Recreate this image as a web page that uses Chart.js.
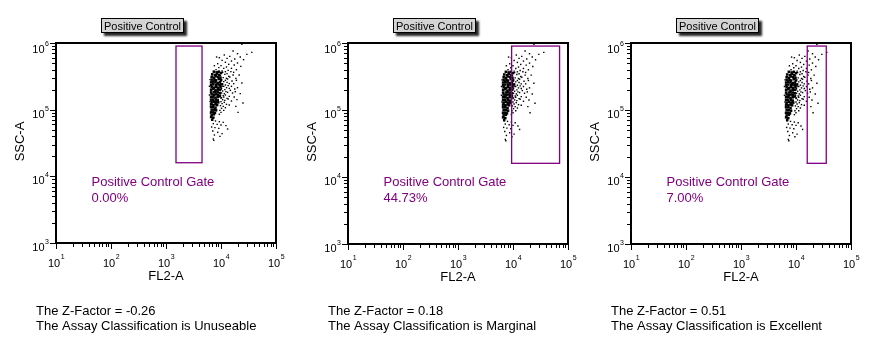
<!DOCTYPE html>
<html>
<head>
<meta charset="utf-8">
<script src="https://cdn.jsdelivr.net/npm/chart.js@4.4.1/dist/chart.umd.min.js"></script>
<style>
  html, body { margin: 0; padding: 0; background: #fff; }
  #wrap { position: relative; width: 884px; height: 340px; overflow: hidden; }
  canvas { position: absolute; top: 0; }
</style>
</head>
<body>
<div id="wrap"></div>
<script>
// --- values ---
const panelTitles = ['Positive Control', 'Positive Control', 'Positive Control'];
const gateName = 'Positive Control Gate';
const gatePercents = ['0.00%', '44.73%', '7.00%'];
const zFactors = ['-0.26', '0.18', '0.51'];
const classifications = ['Unuseable', 'Marginal', 'Excellent'];
const xTitle = 'FL2-A';
const yTitle = 'SSC-A';

// gate limits (FL2 per panel, SSC shared)
const gateFL2 = [[1520, 4520], [9440, 70300], [16000, 35500]];
const gateSSC = [16000, 900000];

// decade tick exponents
const xTickExps = [1, 2, 3, 4, 5];
const yTickExps = [3, 4, 5, 6];

// events as [log10 FL2, log10 SSC]; the same sample is shown in all three plots
// dense centre of the population
const coreEvents = [
  [3.87,5.57],[3.92,5.56],[3.96,5.57],[4.00,5.55],
  [3.84,5.53],[3.89,5.52],[3.93,5.54],[3.97,5.52],
  [3.83,5.49],[3.87,5.48],[3.91,5.50],[3.95,5.49],[3.99,5.48],
  [3.83,5.45],[3.88,5.45],[3.91,5.44],[3.96,5.46],[4.00,5.44],
  [3.82,5.41],[3.86,5.42],[3.90,5.41],[3.94,5.40],[3.98,5.41],
  [3.82,5.37],[3.86,5.38],[3.91,5.37],[3.94,5.38],[3.98,5.37],[4.02,5.38],
  [3.83,5.34],[3.87,5.33],[3.91,5.34],[3.95,5.33],[3.99,5.34],
  [3.82,5.30],[3.86,5.31],[3.90,5.29],[3.94,5.30],[3.98,5.30],
  [3.82,5.26],[3.87,5.26],[3.90,5.27],[3.94,5.26],[3.98,5.25],
  [3.83,5.23],[3.87,5.22],[3.91,5.23],[3.95,5.22],
  [3.82,5.19],[3.86,5.19],[3.90,5.18],[3.94,5.19],[3.98,5.20],
  [3.82,5.15],[3.86,5.15],[3.91,5.15],[3.94,5.14],
  [3.83,5.11],[3.87,5.12],[3.91,5.11],[3.95,5.11],
  [3.82,5.08],[3.86,5.07],[3.90,5.08],[3.93,5.07],
  [3.82,5.04],[3.86,5.04],[3.90,5.03],
  [3.83,5.00],[3.87,5.00],[3.91,4.99],
  [3.82,4.96],[3.86,4.96],[3.89,4.95],
  [3.83,4.92],[3.87,4.93],
  [3.82,4.89],[3.86,4.88],
  [3.84,4.85]
];
// scattered events around it
const sparseEvents = [
  // upper tail
  [4.38,5.98],[4.56,5.86],[4.22,5.88],[4.30,5.84],[4.47,5.83],[4.06,5.82],[4.16,5.80],
  [4.35,5.79],[3.92,5.79],[3.97,5.78],[4.11,5.77],[4.25,5.76],[4.41,5.75],[4.02,5.74],
  [4.19,5.73],[4.08,5.71],[4.30,5.70],[3.94,5.69],[4.14,5.68],[4.24,5.67],[3.88,5.66],
  [4.00,5.66],[4.36,5.65],[4.10,5.64],[3.96,5.63],[4.05,5.62],[4.19,5.62],[4.28,5.60],
  [3.91,5.60],[4.13,5.59],[4.02,5.58],[4.08,5.57],[4.23,5.56],[3.93,5.55],
  // right shoulder
  [4.03,5.56],[4.11,5.54],[4.18,5.57],
  [3.99,5.51],[4.07,5.53],[4.14,5.50],[4.22,5.52],
  [4.04,5.48],[4.10,5.47],[4.16,5.49],
  [4.01,5.45],[4.08,5.44],[4.12,5.46],[4.20,5.43],[4.27,5.47],
  [4.05,5.42],[4.11,5.41],[4.15,5.39],[3.99,5.40],
  [4.02,5.39],[4.08,5.37],[4.13,5.36],[4.23,5.39],
  [4.05,5.35],[4.10,5.33],[4.19,5.35],[4.02,5.35],
  [4.01,5.32],[4.07,5.30],[4.15,5.32],[4.25,5.31],[4.00,5.30],
  [4.03,5.28],[4.09,5.27],[4.17,5.29],
  [4.01,5.25],[4.06,5.24],[4.12,5.26],[4.21,5.25],
  [4.04,5.21],[4.08,5.22],[4.15,5.20],[3.99,5.22],
  [4.01,5.18],[4.05,5.19],[4.11,5.17],[4.24,5.19],[4.00,5.17],
  [4.03,5.15],[4.07,5.14],[4.13,5.16],
  [4.00,5.12],[4.06,5.11],[4.19,5.13],
  [4.02,5.09],[4.10,5.08],
  [3.99,5.06],[4.04,5.05],[4.15,5.07],
  [4.01,5.02],[4.08,5.03],
  [3.98,4.99],[4.05,4.99],
  [4.00,4.96],[3.97,4.93],
  // far right
  [4.33,5.52],[4.28,5.44],[4.38,5.40],[4.30,5.33],[4.26,5.27],[4.35,5.24],
  [4.29,5.15],[4.40,5.10],[4.27,5.05],[4.31,4.96],
  // lower tail
  [3.84,4.84],[3.90,4.83],[3.97,4.82],[4.04,4.81],[3.86,4.79],[3.93,4.78],[4.00,4.77],
  [4.09,4.76],[3.83,4.74],[3.89,4.73],[3.96,4.72],[4.12,4.71],[3.85,4.68],[3.94,4.66],
  [4.02,4.64],[3.88,4.62],[3.98,4.60],[3.86,4.56],[3.87,4.54],
  // ragged left edge
  [3.79,5.35],[3.80,5.12],[3.79,5.22],[3.81,4.95],[3.80,5.45],[3.81,5.05]
];

// --- layout of the three plots (pixels) ---
const plotLefts = [56, 348, 631];
const plotBottoms = [243, 244, 244];
const PLOT_TOP = 43, PLOT_W = 220, CANVAS_W = 290, H = 340;
const FONT = '"Liberation Sans", Arial, sans-serif';
const PURPLE = '#800080';

const toPoints = list => list.map(p => ({ x: 10 ** p[0], y: 10 ** p[1] }));

function flowPlugin(i) {
  return {
    id: 'flow' + i,
    afterDatasetsDraw(chart) {
      const { ctx, chartArea: a, scales: { x, y } } = chart;
      ctx.save();

      // gate
      const gx1 = x.getPixelForValue(gateFL2[i][0]);
      const gx2 = x.getPixelForValue(gateFL2[i][1]);
      const gy1 = y.getPixelForValue(gateSSC[1]);
      const gy2 = y.getPixelForValue(gateSSC[0]);
      ctx.strokeStyle = PURPLE;
      ctx.lineWidth = 1.3;
      ctx.strokeRect(gx1, gy1, gx2 - gx1, gy2 - gy1);

      // frame
      ctx.strokeStyle = '#000';
      ctx.lineWidth = 2;
      ctx.strokeRect(a.left, a.top, a.right - a.left, a.bottom - a.top);

      // log ticks
      ctx.lineWidth = 1;
      ctx.beginPath();
      const xLast = xTickExps[xTickExps.length - 1];
      const yLast = yTickExps[yTickExps.length - 1];
      for (let e = xTickExps[0]; e <= xLast; e++) {
        for (let m = 1; m <= 9; m++) {
          if (e === xLast && m > 1) break;
          const p = Math.round(x.getPixelForValue(m * 10 ** e)) + 0.5;
          ctx.moveTo(p, a.bottom);
          ctx.lineTo(p, a.bottom + (m === 1 ? 6 : 4));
        }
      }
      for (let e = yTickExps[0]; e <= yLast; e++) {
        for (let m = 1; m <= 9; m++) {
          if (e === yLast && m > 1) break;
          const p = Math.round(y.getPixelForValue(m * 10 ** e)) + 0.5;
          ctx.moveTo(a.left, p);
          ctx.lineTo(a.left - (m === 1 ? 6 : 4), p);
        }
      }
      ctx.stroke();

      // tick labels 10^n
      ctx.fillStyle = '#000';
      ctx.textBaseline = 'alphabetic';
      ctx.textAlign = 'left';
      xTickExps.forEach(e => {
        const p = x.getPixelForValue(10 ** e);
        ctx.font = '11px ' + FONT;
        const w1 = ctx.measureText('10').width;
        ctx.font = '7px ' + FONT;
        const w2 = ctx.measureText(String(e)).width;
        const s = p - (w1 + w2) / 2;
        ctx.font = '11px ' + FONT;
        ctx.fillText('10', s, a.bottom + 24);
        ctx.font = '7px ' + FONT;
        ctx.fillText(String(e), s + w1 + 0.5, a.bottom + 16);
      });
      yTickExps.forEach(e => {
        const p = y.getPixelForValue(10 ** e);
        const base = Math.max(p + 8, a.top + 9.5);
        ctx.font = '7px ' + FONT;
        const w2 = ctx.measureText(String(e)).width;
        const r = a.left - 7;
        ctx.fillText(String(e), r - w2, base - 7);
        ctx.font = '11px ' + FONT;
        const w1 = ctx.measureText('10').width;
        ctx.fillText('10', r - w2 - w1 - 0.5, base);
      });

      // axis titles
      ctx.font = '13px ' + FONT;
      ctx.textAlign = 'center';
      ctx.fillText(xTitle, (a.left + a.right) / 2, a.bottom + 37);
      ctx.save();
      ctx.translate(a.left - 32.5, (a.top + a.bottom) / 2 - 1.5);
      ctx.rotate(-Math.PI / 2);
      ctx.fillText(yTitle, 0, 0);
      ctx.restore();

      // gate label
      ctx.textAlign = 'left';
      ctx.fillStyle = PURPLE;
      ctx.fillText(gateName, a.left + 35.5, 185.5);
      ctx.fillText(gatePercents[i], a.left + 35.5, 201.5);

      // summary lines
      ctx.fillStyle = '#000';
      ctx.fillText('The Z-Factor = ' + zFactors[i], a.left - 20, 314.5);
      ctx.fillText('The Assay Classification is ' + classifications[i], a.left - 20, 329.5);

      // title button
      const bx = a.left + 45, by = 18, bw = 83, bh = 15;
      ctx.save();
      ctx.shadowColor = 'rgba(0,0,0,0.85)';
      ctx.shadowOffsetX = 3;
      ctx.shadowOffsetY = 3;
      ctx.shadowBlur = 2;
      ctx.fillStyle = '#d4d4d4';
      ctx.fillRect(bx, by, bw, bh);
      ctx.restore();
      ctx.strokeStyle = '#000';
      ctx.lineWidth = 1;
      ctx.strokeRect(bx + 0.5, by + 0.5, bw - 1, bh - 1);
      ctx.fillStyle = '#000';
      ctx.font = '11px ' + FONT;
      ctx.textAlign = 'center';
      ctx.fillText(panelTitles[i], bx + bw / 2, by + 11.5);

      ctx.restore();
    }
  };
}

const wrap = document.getElementById('wrap');
plotLefts.forEach((left, i) => {
  const cv = document.createElement('canvas');
  cv.width = CANVAS_W;
  cv.height = H;
  cv.style.left = (left - 56) + 'px';
  cv.style.width = CANVAS_W + 'px';
  cv.style.height = H + 'px';
  wrap.appendChild(cv);

  new Chart(cv.getContext('2d'), {
    type: 'scatter',
    data: {
      datasets: [{
        label: 'core',
        data: toPoints(coreEvents),
        pointStyle: 'rect',
        pointRadius: 1.8,
        borderWidth: 0,
        backgroundColor: '#000'
      }, {
        label: 'events',
        data: toPoints(sparseEvents),
        pointStyle: 'rect',
        pointRadius: 1,
        borderWidth: 0,
        backgroundColor: '#000'
      }]
    },
    options: {
      responsive: false,
      animation: false,
      devicePixelRatio: 1,
      events: [],
      layout: {
        padding: { left: 56, right: CANVAS_W - 56 - PLOT_W, top: PLOT_TOP, bottom: H - plotBottoms[i] }
      },
      scales: {
        x: { type: 'logarithmic', min: 10, max: 1e5, display: false },
        y: { type: 'logarithmic', min: 1e3, max: 1e6, display: false }
      },
      plugins: { legend: { display: false }, tooltip: { enabled: false } }
    },
    plugins: [flowPlugin(i)]
  });
});
</script>
</body>
</html>
